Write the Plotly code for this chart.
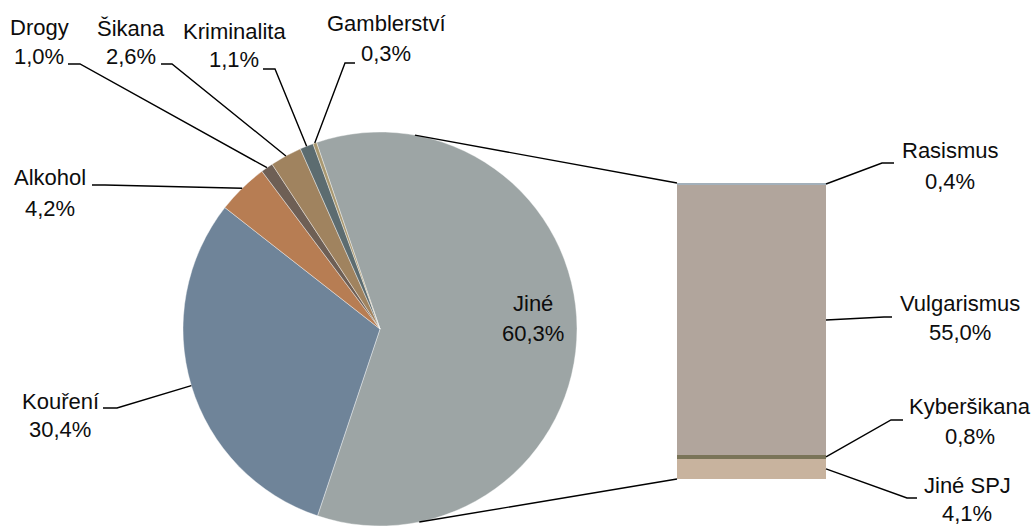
import math
import plotly.graph_objects as go

# ---------------- data ----------------
pie_labels = ["Jiné", "Kouření", "Alkohol", "Drogy", "Šikana", "Kriminalita", "Gamblerství"]
pie_values = [60.3, 30.4, 4.2, 1.0, 2.6, 1.1, 0.3]
pie_colors = ["#9DA5A5", "#6F8499", "#B77D53", "#6E5F55", "#A0835F", "#5C6C70", "#A99870"]

bar_labels = ["Jiné SPJ", "Kyberšikana", "Vulgarismus", "Rasismus"]   # bottom -> top
bar_values = [4.1, 0.8, 55.0, 0.4]
bar_colors = ["#C8B39E", "#7A7458", "#B1A59C", "#A3B0BA"]

# ---------------- layout constants (pixels) ----------------
W, H = 1035, 526
CX, CY, R = 380, 329, 197
ROT = -18.8
BAR_X0, BAR_X1, BAR_TOP, BAR_BOT = 677, 826, 183, 479
CONN_ANGLES = (10.2, 168.5)

FONT = "Liberation Sans, Arial, sans-serif"
FS = 22
TXT = "#0d0d0d"

# label placement: center x, line1 y, line2 y, elbow points (label side first)
pie_label_pos = {
    "Kouření":     (60, 401, 429, [(103, 408), (117, 408)]),
    "Alkohol":     (50, 177, 208, [(92, 185), (105, 185)]),
    "Drogy":       (39, 27, 57, [(68, 64), (80, 64)]),
    "Šikana":      (131, 28, 57, [(161, 64), (172, 64)]),
    "Kriminalita": (234, 31, 59, [(263, 69), (275, 69)]),
    "Gamblerství": (386, 24, 54, [(355, 63), (345, 63)]),
}
inside_pos = {"Jiné": (533, 304, 333)}
bar_label_pos = {
    "Rasismus":    (950, 151, 181, [(894, 163), (882, 163)]),
    "Vulgarismus": (960, 304, 332, [(892, 317), (884, 317)]),
    "Kyberšikana": (970, 406, 436, [(903, 420), (891, 420)]),
    "Jiné SPJ":    (967, 485, 513, [(917, 498), (907, 498)]),
}


def fmt(v):
    return f"{v:.1f}".replace(".", ",") + "%"


def px(x):
    return x / W


def py(y):
    return 1 - y / H


def pie_point(angle_deg):
    a = math.radians(angle_deg)
    return CX + R * math.sin(a), CY - R * math.cos(a)


fig = go.Figure()

fig.add_trace(go.Pie(
    labels=pie_labels, values=pie_values,
    marker=dict(colors=pie_colors, line=dict(color="white", width=0.4)),
    sort=False, direction="clockwise", rotation=ROT,
    textinfo="none", hoverinfo="label+percent", showlegend=False,
    domain=dict(x=[px(CX - R), px(CX + R)], y=[py(CY + R), py(CY - R)]),
))

bar_total = sum(bar_values)
for lab, v, c in zip(bar_labels, bar_values, bar_colors):
    fig.add_trace(go.Bar(
        x=[0], y=[v], name=lab, marker=dict(color=c, line=dict(width=0)),
        width=1, showlegend=False, xaxis="x", yaxis="y",
    ))

shapes = []
annotations = []
line_style = dict(color="black", width=1.4)


def add_path(points):
    d = "M " + " L ".join(f"{px(x):.5f},{py(y):.5f}" for x, y in points)
    shapes.append(dict(type="path", path=d, xref="paper", yref="paper", line=line_style))


def add_text(x, y, text):
    annotations.append(dict(x=px(x), y=py(y), xref="paper", yref="paper", text=text,
                            showarrow=False, xanchor="center", yanchor="middle",
                            font=dict(family=FONT, size=FS, color=TXT)))


# pie labels
total = sum(pie_values)
ang = ROT
for lab, v in zip(pie_labels, pie_values):
    span = v / total * 360
    mid = ang + span / 2
    ang += span
    if lab in inside_pos:
        cx, y1, y2 = inside_pos[lab]
        add_text(cx, y1, lab)
        add_text(cx, y2, fmt(v))
        continue
    cx, y1, y2, elbow = pie_label_pos[lab]
    add_text(cx, y1, lab)
    add_text(cx, y2, fmt(v))
    add_path(elbow + [pie_point(mid)])

# bar labels
cum = 0
for lab, v in zip(bar_labels, bar_values):
    mid = cum + v / 2
    cum += v
    ymid = BAR_BOT - mid / bar_total * (BAR_BOT - BAR_TOP)
    cx, y1, y2, elbow = bar_label_pos[lab]
    add_text(cx, y1, lab)
    add_text(cx, y2, fmt(v))
    add_path(elbow + [(BAR_X1, ymid)])

# connectors pie -> bar
add_path([pie_point(CONN_ANGLES[0]), (BAR_X0, BAR_TOP)])
add_path([pie_point(CONN_ANGLES[1]), (BAR_X0, BAR_BOT)])

fig.update_layout(
    width=W, height=H, margin=dict(l=0, r=0, t=0, b=0),
    paper_bgcolor="white", plot_bgcolor="rgba(0,0,0,0)",
    barmode="stack", bargap=0,
    xaxis=dict(domain=[px(BAR_X0), px(BAR_X1)], range=[-0.5, 0.5], visible=False, fixedrange=True),
    yaxis=dict(domain=[py(BAR_BOT), py(BAR_TOP)], range=[0, bar_total], visible=False, fixedrange=True),
    shapes=shapes, annotations=annotations,
)

fig.write_html(
    "out.html",
    config={"displayModeBar": False},
    post_script="document.body.style.margin='0';document.body.style.overflow='hidden';",
)
